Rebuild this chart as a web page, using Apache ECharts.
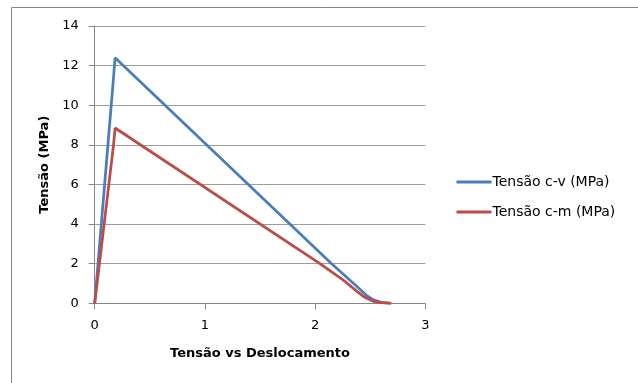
<!DOCTYPE html>
<html>
<head>
<meta charset="utf-8">
<script src="https://cdn.jsdelivr.net/npm/echarts@6/dist/echarts.min.js"></script>
<style>
html,body{margin:0;padding:0;background:#fff;}
#c{width:638px;height:383px;}
</style>
</head>
<body>
<div id="c"></div>
<script>
const seriesNames = ["Tensão c-v (MPa)", "Tensão c-m (MPa)"];
const cvX = [0, 0.165, 0.185, 2.15, 2.40, 2.47, 2.53, 2.60, 2.69];
const cvY = [0, 11.0, 12.4, 2.0, 0.75, 0.38, 0.17, 0.05, 0];
const cmX = [0, 0.17, 0.185, 2.044, 2.25, 2.38, 2.45, 2.53, 2.60, 2.69];
const cmY = [0, 7.95, 8.85, 2.0, 1.2, 0.6, 0.3, 0.1, 0.03, 0];
const xTicks = [0, 1, 2, 3];
const yTicks = [0, 2, 4, 6, 8, 10, 12, 14];
const xTitle = "Tensão vs Deslocamento";
const yTitle = "Tensão (MPa)";

const pair = (xs, ys) => xs.map((x, i) => [x, ys[i]]);
const gray = '#868686';
const gridGray = '#9c9c9c';
const font = 'DejaVu Sans';

const chart = echarts.init(document.getElementById('c'), null, {renderer: 'canvas'});
chart.setOption({
  animation: false,
  backgroundColor: '#ffffff',
  graphic: [{
    type: 'rect',
    shape: {x: 11.5, y: 7.5, width: 700, height: 500},
    style: {fill: 'none', stroke: gray, lineWidth: 1},
    silent: true
  }],
  grid: {left: 94.7, right: 212.7, top: 26, bottom: 79.7, containLabel: false},
  legend: {
    orient: 'vertical',
    left: 451.5,
    top: 170,
    padding: 5,
    itemWidth: 35,
    itemHeight: 14,
    itemGap: 16,
    icon: 'path://M0,6 L35,6 L35,9 L0,9 Z',
    textStyle: {fontFamily: font, fontSize: 14, color: '#000', padding: [0, 0, 0, -4]},
    data: seriesNames
  },
  xAxis: {
    type: 'value',
    min: 0, max: 3, interval: 1,
    name: xTitle,
    nameLocation: 'middle',
    nameGap: 44,
    nameTextStyle: {fontFamily: font, fontSize: 13, fontWeight: 'bold', color: '#000'},
    axisLine: {show: true, lineStyle: {color: gray, width: 1}},
    axisTick: {show: true, length: 6, lineStyle: {color: gray}},
    axisLabel: {fontFamily: font, fontSize: 13, color: '#000', margin: 16,
      formatter: v => xTicks.includes(v) ? String(v) : ''},
    splitLine: {show: false}
  },
  yAxis: {
    type: 'value',
    min: 0, max: 14, interval: 2,
    name: yTitle,
    nameLocation: 'middle',
    nameGap: 39.5,
    nameRotate: 90,
    nameTextStyle: {fontFamily: font, fontSize: 13, fontWeight: 'bold', color: '#000'},
    axisLine: {show: true, lineStyle: {color: gray, width: 1}},
    axisTick: {show: true, length: 6, lineStyle: {color: gray}},
    axisLabel: {fontFamily: font, fontSize: 13, color: '#000', margin: 16,
      formatter: v => yTicks.includes(v) ? String(v) : ''},
    splitLine: {show: true, lineStyle: {color: gridGray, width: 1}}
  },
  series: [
    {
      name: seriesNames[0], type: 'line', data: pair(cvX, cvY),
      symbol: 'none', showSymbol: false,
      lineStyle: {color: '#4a7ebb', width: 2.75},
      itemStyle: {color: '#4a7ebb'}
    },
    {
      name: seriesNames[1], type: 'line', data: pair(cmX, cmY),
      symbol: 'none', showSymbol: false,
      lineStyle: {color: '#be4b48', width: 2.75},
      itemStyle: {color: '#be4b48'}
    }
  ]
});
</script>
</body>
</html>
